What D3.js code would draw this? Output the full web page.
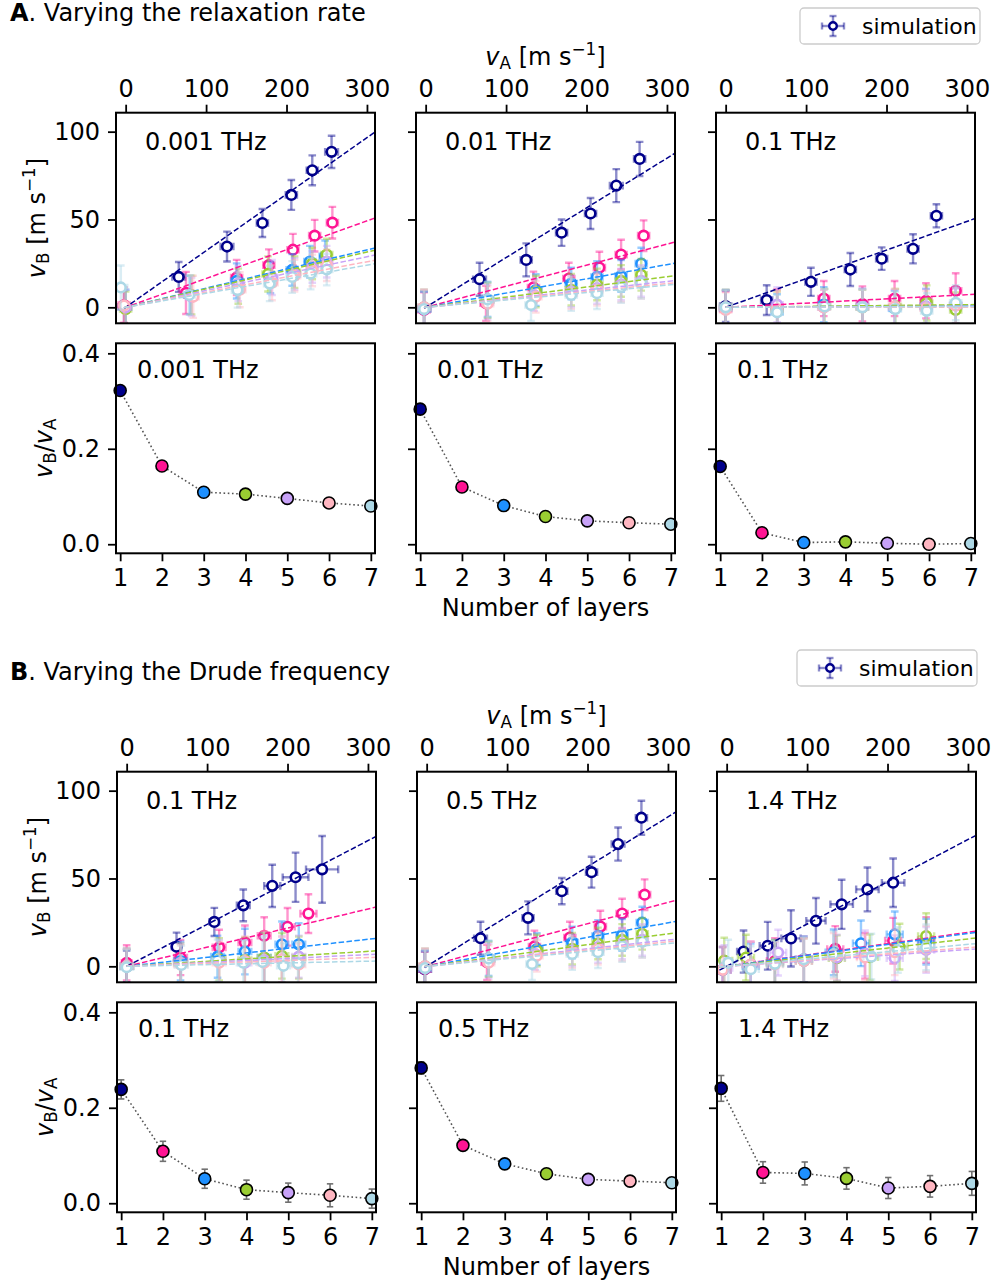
<!DOCTYPE html>
<html><head><meta charset="utf-8">
<script src="https://cdn.jsdelivr.net/npm/d3@7"></script>
<style>
body{margin:0;background:#fff}
svg{display:block}
text{font-family:"DejaVu Sans",sans-serif;white-space:pre}
</style>
</head><body>
<svg id="fig" width="994" height="1286"></svg>
<script>
// ---------------- data ----------------
const layers = [1, 2, 3, 4, 5, 6, 7];
const layerColors = ["#00008b", "#ff1493", "#1e90ff", "#9acd32", "#c8a2f8", "#ffb6c1", "#add8e6"];
const xTicksTop = [0, 100, 200, 300];
const yTicksTop = [0, 50, 100];
const xTicksBot = [1, 2, 3, 4, 5, 6, 7];
const yTicksBot = [0.0, 0.2, 0.4];
const labelsA = ["0.001 THz", "0.01 THz", "0.1 THz"];
const labelsB = ["0.1 THz", "0.5 THz", "1.4 THz"];
const lineStartA = [-2, -2, 0];
const lineStartB = [0, -2.5, -9];

// Panel A1 (0.001 THz)
const A1_vA = [[-2,66,126,170,206,232,256],[-2,75,138,178,208,235,257],[0,80,138,180,207,229,248],[0,82,140,177,210,232,250],[0,82,140,182,210,232,250],[-2,84,142,182,210,232,250],[-6,79,139,179,207,230,250]];
const A1_vB = [[0.3,17.3,34.6,48,64,78,88.5],[1.3,8.2,17,24,32.8,40.8,48.2],[0,7,15,17,21.3,26,29],[-1,7,12,19,20,25,30],[0,6,13.5,17,19,23,26],[1,6,10,14,18,21,24],[11.3,7,9.8,13.5,17.3,19.2,21.5]];
const A1_xerr = [[8,8,8,7,7,7,8],[7,8,7,7,7,7,7],[7,7,7,7,7,7,7],[7,7,7,7,7,7,7],[7,7,7,7,7,7,7],[7,7,7,7,7,7,7],[8,7,7,7,7,7,7]];
const A1_yerr = [[9.4,8.5,8.5,8,8.5,8.5,9.2],[10,12,10,9,9,9,9],[10,11,10,9,9,9,9],[10,11,10,10,9,9,9],[10,11,10,10,9,9,9],[10,12,10,10,9,9,9],[12.5,11,10,10,9,9,9]];
const A1_ratio = [0.322,0.164,0.109,0.105,0.096,0.0865,0.080];
const A1_ratioErr = [0.010,0.009,0.009,0.009,0.009,0.009,0.009];

// Panel A2 (0.01 THz)
const A2_vA = [[-2,67,125,169,205,237,266],[-2,75,134,178,216,243,271],[-2,77,137,181,213,243,268],[-2,77,137,181,213,243,268],[-2,77,135,181,213,243,268],[-2,77,137,181,213,243,268],[-2,77,131,181,213,243,268]];
const A2_vB = [[-1,16,27,42.5,53.4,69.3,84.5],[-1.5,2.3,11.3,16.4,22.6,30,40.8],[-1,4.5,9.8,13.6,17.3,17.9,24.9],[0,4,9,10,13,15,18.5],[0,3,7,9,11,13,15],[0,2,6,8,10,12,14],[-1,4.5,1.3,7,8,11.6,14]];
const A2_xerr = [[8,8,7,7,7,8,7],[7,7,7,7,7,7,7],[7,7,7,7,7,7,7],[7,7,7,7,7,7,7],[7,7,7,7,7,7,7],[7,7,7,7,7,7,7],[7,7,7,7,7,7,7]];
const A2_yerr = [[10,9.4,9.4,7.5,8.8,9.4,9.7],[10,10,9,9,9,8.5,8.7],[10,10,9,9,9,9,9],[10,10,9,9,9,9,9],[10,10,9,9,9,9,9],[10,10,9,9,9,9,9],[10,10,9,9,9,9,9]];
const A2_ratio = [0.283,0.120,0.081,0.058,0.049,0.045,0.042];
const A2_ratioErr = [0.010,0.009,0.009,0.009,0.009,0.009,0.009];

// Panel A3 (0.1 THz)
const A3_vA = [[0,51,106,155,194,233,262],[0,64,122,170,210,249,286],[0,64,122,170,210,249,286],[0,64,123,170,211,250,286],[0,64,122,170,210,249,286],[0,64,122,170,210,249,286],[0,64,123,170,211,250,286]];
const A3_vB = [[0.7,4.1,14.5,21.5,27.7,33.3,52.1],[-1,0.3,5,1.9,5,3.7,9.4],[-0.5,-2.5,1.5,0.5,-0.5,0.5,1],[0,-1,0.5,0,0.5,2.5,-1.5],[0,1.5,0,0.5,0,0.5,1],[-1.5,-1,0,0,0.5,-0.5,1],[0,-2.8,0.5,0,-1,-2,2.6]];
const A3_xerr = [[7,7,7,7,7,7,7],[7,7,7,7,7,7,7],[7,7,7,7,7,7,7],[7,7,7,7,7,7,7],[7,7,7,7,7,7,7],[7,7,7,7,7,7,7],[7,7,7,7,7,7,7]];
const A3_yerr = [[9,8.5,8,9.4,6.4,8.3,6.6],[10,10,10,10,10,10,10],[10,10,10,10,10,10,10],[10,10,10,10,10,10,10],[10,10,10,10,10,10,10],[10,10,10,10,10,10,10],[10,10,10,10,10,10,10]];
const A3_ratio = [0.163,0.024,0.0035,0.005,0.002,0.0,0.0015];
const A3_ratioErr = [0.009,0.009,0.009,0.009,0.009,0.009,0.009];

// Panel B1 (0.1 THz)
const B1_vA = [[0,62,109,145,181,210,243],[0,67,115,147,171,200,226],[0,67,113,147,171,193,214],[0,67,115,147,171,193,214],[0,67,115,147,171,193,214],[0,67,115,147,171,193,214],[0,68,113,145,169,195,213]];
const B1_vB = [[0,11.2,25.3,34.7,45.8,50.7,55.2],[2,5,10.8,13.6,17.4,22.5,30],[0,3,5.5,8.4,5,12.5,12.5],[0,2,4,3.5,5,6,5],[0,2,3,2,3.5,4,5.5],[0,1,2,3,2,4,1],[-0.5,0.8,3.3,2.1,2.5,0.3,1.8]];
const B1_xerr = [[6,6,6,8,10,16,20],[6,8,8,8,8,9,10],[8,8,8,8,8,8,8],[8,8,8,8,8,8,8],[8,8,8,8,8,8,8],[8,8,8,8,8,8,8],[8,8,8,8,8,8,8]];
const B1_yerr = [[9,8,8,9,12,14,19],[10,10,10,9.6,10.5,10.7,11],[10,11,12,13,14,13,12],[10,11,12,13,14,13,12],[10,11,12,13,14,13,12],[10,11,12,14,18,13,12],[10,11,12,13,14,13,12]];
const B1_ratio = [0.2385,0.1088,0.0513,0.0284,0.0222,0.0166,0.0097];
const B1_ratioErr = [0.020,0.021,0.020,0.020,0.020,0.024,0.020];

// Panel B2 (0.5 THz)
const B2_vA = [[-2.5,67,126,168,205,238,267],[-2,75,134,178,216,243,271],[-2,77,137,181,213,243,268],[-2,77,137,181,213,243,268],[-2,77,135,181,213,243,268],[-2,77,137,181,213,243,268],[-2,77,131,181,213,243,268]];
const B2_vB = [[-1.6,16,27.6,42.8,53.6,69.6,84.6],[-1.5,2.3,11.3,16.4,22.6,30,40.8],[-1,4.5,9.8,13.6,17.3,17.9,24.9],[0,4,9,10,13,15,18.5],[0,3,7,9,11,13,15],[0,2,6,8,10,12,14],[-1,4.5,1.3,7,8,11.6,14]];
const B2_xerr = [[8,8,7,7,7,8,7],[7,7,7,7,7,7,7],[7,7,7,7,7,7,7],[7,7,7,7,7,7,7],[7,7,7,7,7,7,7],[7,7,7,7,7,7,7],[7,7,7,7,7,7,7]];
const B2_yerr = [[10,9.4,9.4,7.5,8.8,9.4,9.7],[10,10,9,9,9,8.5,8.7],[10,10,9,9,9,9,9],[10,10,9,9,9,9,9],[10,10,9,9,9,9,9],[10,10,9,9,9,9,9],[10,10,9,9,9,9,9]];
const B2_ratio = [0.2835,0.1213,0.0825,0.0617,0.0499,0.0464,0.043];
const B2_ratioErr = [0.0125,0.010,0.010,0.010,0.010,0.010,0.010];

// Panel B3 (1.4 THz)
const B3_vA = [[21,51,80,111,143,175,207],[-5,30,60,96,135,172,207,248],[-5,30,60,96,133,167,209,248],[-3,24,60,96,137,178,215,248],[-3,30,64,96,137,172,209,248],[-5,30,60,96,133,172,209,248],[2,30,60,96,133,180,213,248]];
const B3_vB = [[8.4,11.7,15.9,25.9,35.3,43.8,47.6],[-2,1,3,4,9.9,6,14.6,15],[-2,0,2,4,8,13.1,18.2,14],[3.3,5,2,3,4.6,5.2,11.2,17.2],[-1,1,7.8,3,5,7.4,4.6,9.3],[-2,1,1,3,6,5,8,10],[2.1,-1.6,1.4,4,6.9,5.5,9.3,10.8]];
const B3_xerr = [[8,10,12,12,14,14,14],[10,10,10,10,10,10,10,10],[10,10,10,10,10,10,10,10],[10,10,10,10,10,10,10,10],[10,10,10,10,10,10,10,10],[10,10,10,10,10,10,10,10],[10,10,10,10,10,10,10,10]];
const B3_yerr = [[12,13.6,16,13,14,12.5,13.8],[13,13,13,13,13,13,13,13],[13,13,13,13,13,13,13,13],[13,13,13,13,13,13,13,13],[13,13,13,13,13,13,13,13],[13,13,13,13,13,13,13,13],[13,13,13,13,13,13,13,13]];
const B3_ratio = [0.2406,0.0645,0.0624,0.052,0.0319,0.0354,0.0416];
const B3_ratioErr = [0.027,0.0225,0.024,0.0225,0.022,0.0225,0.025];

// ---------------- layout ----------------
const FS = 24;
const W = 259, topH = 210.6, botH = 210;
const colX = [116, 416, 716];
const sections = [
  {dx: 0, dy: 0, title: ["A", ". Varying the relaxation rate"], labels: labelsA, starts: lineStartA,
   panels: [[A1_vA,A1_vB,A1_xerr,A1_yerr,A1_ratio,A1_ratioErr],[A2_vA,A2_vB,A2_xerr,A2_yerr,A2_ratio,A2_ratioErr],[A3_vA,A3_vB,A3_xerr,A3_yerr,A3_ratio,A3_ratioErr]],
   legend: [800, 8]},
  {dx: 1, dy: 659, title: ["B", ". Varying the Drude frequency"], labels: labelsB, starts: lineStartB,
   panels: [[B1_vA,B1_vB,B1_xerr,B1_yerr,B1_ratio,B1_ratioErr],[B2_vA,B2_vB,B2_xerr,B2_yerr,B2_ratio,B2_ratioErr],[B3_vA,B3_vB,B3_xerr,B3_yerr,B3_ratio,B3_ratioErr]],
   legend: [797, 650]}
];
const topY = 112.7, botY = 343.3;

const xTop = d3.scaleLinear().domain([-12, 310]).range([0, W]);
const yTop = d3.scaleLinear().domain([-9.1, 110.8]).range([topH, 0]);
const xBot = d3.scaleLinear().domain([0.9, 7.1]).range([0, W]);
const yBot = d3.scaleLinear().domain([-0.019, 0.421]).range([botH, 0]);

const svg = d3.select("#fig");
const defs = svg.append("defs");
let clipId = 0;

function addMath(sel, parts, fs) {
  let cur = 0;
  parts.forEach(p => {
    const target = p.s === "sub" ? fs * 0.18 : p.s === "sup" ? -fs * 0.42 : 0;
    const ts = sel.append("tspan").attr("dy", target - cur).text(p.t);
    cur = target;
    if (p.s) ts.attr("font-size", fs * 0.7);
    if (p.i) ts.attr("font-style", "italic");
  });
}

function styleAxis(g) {
  g.attr("font-size", FS).attr("font-family", "DejaVu Sans");
  g.selectAll(".domain").remove();
  g.selectAll(".tick line").attr("stroke", "#000").attr("stroke-width", 1.8);
  g.selectAll(".tick text").attr("fill", "#000");
}

function clipFor(g, h) {
  const id = "clip" + (clipId++);
  defs.append("clipPath").attr("id", id).append("rect").attr("width", W).attr("height", h);
  return g.append("g").attr("clip-path", `url(#${id})`);
}

function errBars(g, pts, xs, ys, color, opacity, lw, capX, capY) {
  const eg = g.append("g").attr("stroke", color).attr("stroke-opacity", opacity).attr("stroke-width", lw).attr("fill", "none");
  pts.forEach(d => {
    const cx = xs(d.x), cy = ys(d.y);
    if (d.ey !== undefined) {
      const y1 = ys(d.y - d.ey), y2 = ys(d.y + d.ey);
      eg.append("line").attr("x1", cx).attr("x2", cx).attr("y1", y1).attr("y2", y2);
      eg.append("line").attr("x1", cx - capY).attr("x2", cx + capY).attr("y1", y1).attr("y2", y1);
      eg.append("line").attr("x1", cx - capY).attr("x2", cx + capY).attr("y1", y2).attr("y2", y2);
    }
    if (d.ex !== undefined) {
      const x1 = xs(d.x - d.ex), x2 = xs(d.x + d.ex);
      eg.append("line").attr("x1", x1).attr("x2", x2).attr("y1", cy).attr("y2", cy);
      eg.append("line").attr("x1", x1).attr("x2", x1).attr("y1", cy - capX).attr("y2", cy + capX);
      eg.append("line").attr("x1", x2).attr("x2", x2).attr("y1", cy - capX).attr("y2", cy + capX);
    }
  });
}

sections.forEach(sec => {
  // title
  const t = svg.append("text").attr("x", 10).attr("y", 21 + sec.dy).attr("font-size", FS);
  t.append("tspan").attr("font-weight", "bold").text(sec.title[0]);
  t.append("tspan").text(sec.title[1]);

  // legend
  const [lx, ly] = sec.legend;
  const lg = svg.append("g").attr("transform", `translate(${lx},${ly})`);
  lg.append("rect").attr("width", 180).attr("height", 36).attr("rx", 4).attr("fill", "#fff").attr("stroke", "#cccccc").attr("stroke-width", 1.3);
  const lgm = lg.append("g").attr("transform", "translate(33,18)");
  const idS = d3.scaleLinear().domain([0, 1]).range([0, 1]);
  errBars(lgm, [{x: 0, y: 0, ex: 11, ey: -10}], idS, idS, layerColors[0], 0.45, 2.4, 3.5, 3.5);
  lgm.append("circle").attr("r", 3.8).attr("fill", "#fff").attr("stroke", layerColors[0]).attr("stroke-width", 2.4);
  lg.append("text").attr("x", 62).attr("y", 26).attr("font-size", 22).text("simulation");

  sec.panels.forEach((P, c) => {
    const [vA, vB, xerr, yerr, ratio, rerr] = P;
    const x0 = colX[c] + sec.dx;
    // ---- top panel ----
    const gt = svg.append("g").attr("transform", `translate(${x0},${topY + sec.dy})`);
    const ct = clipFor(gt, topH);
    layers.forEach((L, i) => {
      const col = layerColors[i];
      const pts = vA[i].map((x, j) => ({x: x, y: vB[i][j], ex: xerr[i][j], ey: yerr[i][j]}));
      errBars(ct, pts, xTop, yTop, col, 0.45, 2.4, 3.8, 3.8);
      ct.append("g").selectAll("circle").data(pts).join("circle")
        .attr("cx", d => xTop(d.x)).attr("cy", d => yTop(d.y)).attr("r", 4.8)
        .attr("fill", "#fff").attr("stroke", col).attr("stroke-width", 2.6);
    });
    layers.forEach((L, i) => {
      const xs = [sec.starts[c], 310];
      ct.append("path").datum(xs)
        .attr("d", d3.line().x(v => xTop(v)).y(v => yTop(ratio[i] * v)))
        .attr("fill", "none").attr("stroke", layerColors[i]).attr("stroke-width", 1.5)
        .attr("stroke-dasharray", "5.5,2.4");
    });
    gt.append("rect").attr("width", W).attr("height", topH).attr("fill", "none").attr("stroke", "#000").attr("stroke-width", 2);
    const axT = gt.append("g").call(d3.axisTop(xTop).tickValues(xTicksTop).tickSize(8).tickPadding(8).tickFormat(d3.format("d")));
    styleAxis(axT);
    const axL = gt.append("g").call(d3.axisLeft(yTop).tickValues(yTicksTop).tickSize(8).tickPadding(8)
      .tickFormat(c === 0 ? d3.format("d") : () => ""));
    styleAxis(axL);
    gt.append("text").attr("x", 29).attr("y", 37).attr("font-size", FS).text(sec.labels[c]);

    // ---- bottom panel ----
    const gb = svg.append("g").attr("transform", `translate(${x0},${botY + sec.dy})`);
    const cb = clipFor(gb, botH);
    const bpts = layers.map((L, i) => ({x: L, y: ratio[i], ey: rerr[i], col: layerColors[i]}));
    cb.append("path").datum(bpts)
      .attr("d", d3.line().x(d => xBot(d.x)).y(d => yBot(d.y)))
      .attr("fill", "none").attr("stroke", "#555").attr("stroke-width", 1.6).attr("stroke-dasharray", "1.6,2.6");
    errBars(gb, bpts, xBot, yBot, "#707070", 1, 1.6, 3, 3.2);
    gb.append("g").selectAll("circle").data(bpts).join("circle")
      .attr("cx", d => xBot(d.x)).attr("cy", d => yBot(d.y)).attr("r", 6)
      .attr("fill", d => d.col).attr("stroke", "#000").attr("stroke-width", 1.6);
    gb.append("rect").attr("width", W).attr("height", botH).attr("fill", "none").attr("stroke", "#000").attr("stroke-width", 2);
    const axB = gb.append("g").attr("transform", `translate(0,${botH})`)
      .call(d3.axisBottom(xBot).tickValues(xTicksBot).tickSize(8).tickPadding(8).tickFormat(d3.format("d")));
    styleAxis(axB);
    const axL2 = gb.append("g").call(d3.axisLeft(yBot).tickValues(yTicksBot).tickSize(8).tickPadding(8)
      .tickFormat(c === 0 ? d3.format(".1f") : () => ""));
    styleAxis(axL2);
    gb.append("text").attr("x", 21).attr("y", 35).attr("font-size", FS).text(sec.labels[c]);
  });

  // axis labels
  const cx = colX[1] + sec.dx + W / 2;
  const la = svg.append("text").attr("x", cx).attr("y", 65 + sec.dy).attr("text-anchor", "middle").attr("font-size", FS);
  addMath(la, [{t: "v", i: true}, {t: "A", s: "sub"}, {t: " [m s"}, {t: "−1", s: "sup"}, {t: "]"}], FS);
  svg.append("text").attr("x", cx).attr("y", 616 + sec.dy).attr("text-anchor", "middle").attr("font-size", FS).text("Number of layers");
  const ly1 = svg.append("text").attr("transform", `translate(${45 + sec.dx},${topY + sec.dy + topH / 2}) rotate(-90)`)
    .attr("text-anchor", "middle").attr("font-size", FS);
  addMath(ly1, [{t: "v", i: true}, {t: "B", s: "sub"}, {t: " [m s"}, {t: "−1", s: "sup"}, {t: "]"}], FS);
  const ly2 = svg.append("text").attr("transform", `translate(${52 + sec.dx},${botY + sec.dy + botH / 2}) rotate(-90)`)
    .attr("text-anchor", "middle").attr("font-size", FS);
  addMath(ly2, [{t: "v", i: true}, {t: "B", s: "sub"}, {t: "/"}, {t: "v", i: true}, {t: "A", s: "sub"}], FS);
});
</script>
</body></html>
